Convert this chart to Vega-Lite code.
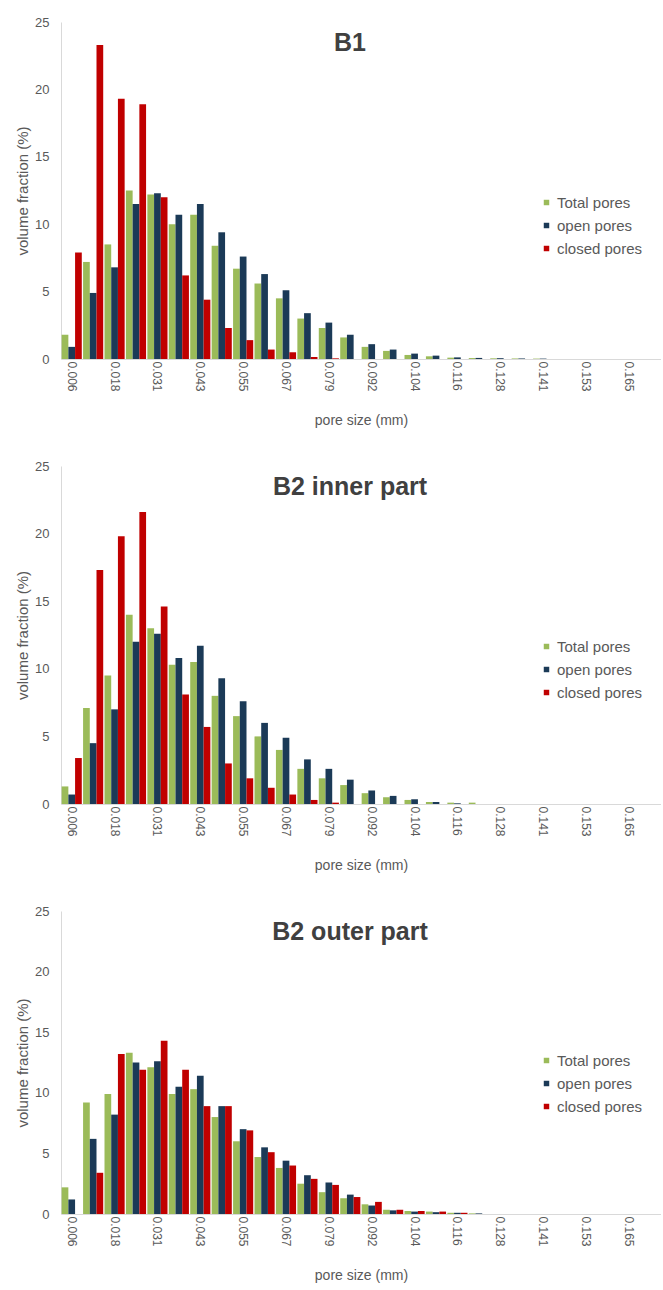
{
  "$schema": "https://vega.github.io/schema/vega-lite/v6.json",
  "padding": {"left": 15, "top": 16, "right": 0, "bottom": 5},
  "background": "white",
  "config": {
    "font": "Liberation Sans",
    "view": {"stroke": null},
    "axis": {
      "labelColor": "#595959",
      "titleColor": "#595959",
      "titleFontWeight": "normal",
      "domainColor": "#d9d9d9",
      "ticks": false,
      "grid": false
    },
    "axisY": {"labelFontSize": 13, "titleFontSize": 15, "labelPadding": 12, "titlePadding": 4},
    "axisX": {"labelFontSize": 12, "titleFontSize": 14, "titlePadding": 22},
    "legend": {
      "symbolType": "square",
      "symbolSize": 30,
      "symbolStrokeWidth": 0,
      "labelFontSize": 15,
      "labelColor": "#595959",
      "rowPadding": 7,
      "labelOffset": 3
    },
    "title": {"fontSize": 25, "fontWeight": "bold", "color": "#404040", "anchor": "middle", "dx": -11, "offset": -40}
  },
  "datasets": {
    "b1": [
      {"size": "0.006", "type": "Total pores", "v": 1.8}, {"size": "0.006", "type": "open pores", "v": 0.9}, {"size": "0.006", "type": "closed pores", "v": 7.9},
      {"size": "0.012", "type": "Total pores", "v": 7.2}, {"size": "0.012", "type": "open pores", "v": 4.9}, {"size": "0.012", "type": "closed pores", "v": 23.3},
      {"size": "0.018", "type": "Total pores", "v": 8.5}, {"size": "0.018", "type": "open pores", "v": 6.8}, {"size": "0.018", "type": "closed pores", "v": 19.3},
      {"size": "0.024", "type": "Total pores", "v": 12.5}, {"size": "0.024", "type": "open pores", "v": 11.5}, {"size": "0.024", "type": "closed pores", "v": 18.9},
      {"size": "0.031", "type": "Total pores", "v": 12.2}, {"size": "0.031", "type": "open pores", "v": 12.3}, {"size": "0.031", "type": "closed pores", "v": 12.0},
      {"size": "0.037", "type": "Total pores", "v": 10.0}, {"size": "0.037", "type": "open pores", "v": 10.7}, {"size": "0.037", "type": "closed pores", "v": 6.2},
      {"size": "0.043", "type": "Total pores", "v": 10.7}, {"size": "0.043", "type": "open pores", "v": 11.5}, {"size": "0.043", "type": "closed pores", "v": 4.4},
      {"size": "0.049", "type": "Total pores", "v": 8.4}, {"size": "0.049", "type": "open pores", "v": 9.4}, {"size": "0.049", "type": "closed pores", "v": 2.3},
      {"size": "0.055", "type": "Total pores", "v": 6.7}, {"size": "0.055", "type": "open pores", "v": 7.6}, {"size": "0.055", "type": "closed pores", "v": 1.4},
      {"size": "0.061", "type": "Total pores", "v": 5.6}, {"size": "0.061", "type": "open pores", "v": 6.3}, {"size": "0.061", "type": "closed pores", "v": 0.7},
      {"size": "0.067", "type": "Total pores", "v": 4.5}, {"size": "0.067", "type": "open pores", "v": 5.1}, {"size": "0.067", "type": "closed pores", "v": 0.5},
      {"size": "0.073", "type": "Total pores", "v": 3.0}, {"size": "0.073", "type": "open pores", "v": 3.4}, {"size": "0.073", "type": "closed pores", "v": 0.15},
      {"size": "0.079", "type": "Total pores", "v": 2.3}, {"size": "0.079", "type": "open pores", "v": 2.7}, {"size": "0.079", "type": "closed pores", "v": 0.05},
      {"size": "0.086", "type": "Total pores", "v": 1.6}, {"size": "0.086", "type": "open pores", "v": 1.8},
      {"size": "0.092", "type": "Total pores", "v": 0.9}, {"size": "0.092", "type": "open pores", "v": 1.1},
      {"size": "0.098", "type": "Total pores", "v": 0.6}, {"size": "0.098", "type": "open pores", "v": 0.7},
      {"size": "0.104", "type": "Total pores", "v": 0.3}, {"size": "0.104", "type": "open pores", "v": 0.4},
      {"size": "0.110", "type": "Total pores", "v": 0.2}, {"size": "0.110", "type": "open pores", "v": 0.25},
      {"size": "0.116", "type": "Total pores", "v": 0.1}, {"size": "0.116", "type": "open pores", "v": 0.12},
      {"size": "0.122", "type": "Total pores", "v": 0.07}, {"size": "0.122", "type": "open pores", "v": 0.08},
      {"size": "0.128", "type": "Total pores", "v": 0.05}, {"size": "0.128", "type": "open pores", "v": 0.06},
      {"size": "0.135", "type": "Total pores", "v": 0.04}, {"size": "0.135", "type": "open pores", "v": 0.04},
      {"size": "0.141", "type": "Total pores", "v": 0.03}, {"size": "0.141", "type": "open pores", "v": 0.03}
    ],
    "b2i": [
      {"size": "0.006", "type": "Total pores", "v": 1.3}, {"size": "0.006", "type": "open pores", "v": 0.7}, {"size": "0.006", "type": "closed pores", "v": 3.4},
      {"size": "0.012", "type": "Total pores", "v": 7.1}, {"size": "0.012", "type": "open pores", "v": 4.5}, {"size": "0.012", "type": "closed pores", "v": 17.3},
      {"size": "0.018", "type": "Total pores", "v": 9.5}, {"size": "0.018", "type": "open pores", "v": 7.0}, {"size": "0.018", "type": "closed pores", "v": 19.8},
      {"size": "0.024", "type": "Total pores", "v": 14.0}, {"size": "0.024", "type": "open pores", "v": 12.0}, {"size": "0.024", "type": "closed pores", "v": 21.6},
      {"size": "0.031", "type": "Total pores", "v": 13.0}, {"size": "0.031", "type": "open pores", "v": 12.6}, {"size": "0.031", "type": "closed pores", "v": 14.6},
      {"size": "0.037", "type": "Total pores", "v": 10.3}, {"size": "0.037", "type": "open pores", "v": 10.8}, {"size": "0.037", "type": "closed pores", "v": 8.1},
      {"size": "0.043", "type": "Total pores", "v": 10.5}, {"size": "0.043", "type": "open pores", "v": 11.7}, {"size": "0.043", "type": "closed pores", "v": 5.7},
      {"size": "0.049", "type": "Total pores", "v": 8.0}, {"size": "0.049", "type": "open pores", "v": 9.3}, {"size": "0.049", "type": "closed pores", "v": 3.0},
      {"size": "0.055", "type": "Total pores", "v": 6.5}, {"size": "0.055", "type": "open pores", "v": 7.6}, {"size": "0.055", "type": "closed pores", "v": 1.9},
      {"size": "0.061", "type": "Total pores", "v": 5.0}, {"size": "0.061", "type": "open pores", "v": 6.0}, {"size": "0.061", "type": "closed pores", "v": 1.2},
      {"size": "0.067", "type": "Total pores", "v": 4.0}, {"size": "0.067", "type": "open pores", "v": 4.9}, {"size": "0.067", "type": "closed pores", "v": 0.7},
      {"size": "0.073", "type": "Total pores", "v": 2.6}, {"size": "0.073", "type": "open pores", "v": 3.3}, {"size": "0.073", "type": "closed pores", "v": 0.3},
      {"size": "0.079", "type": "Total pores", "v": 1.9}, {"size": "0.079", "type": "open pores", "v": 2.6}, {"size": "0.079", "type": "closed pores", "v": 0.1},
      {"size": "0.086", "type": "Total pores", "v": 1.4}, {"size": "0.086", "type": "open pores", "v": 1.8},
      {"size": "0.092", "type": "Total pores", "v": 0.8}, {"size": "0.092", "type": "open pores", "v": 1.0},
      {"size": "0.098", "type": "Total pores", "v": 0.5}, {"size": "0.098", "type": "open pores", "v": 0.6},
      {"size": "0.104", "type": "Total pores", "v": 0.3}, {"size": "0.104", "type": "open pores", "v": 0.35},
      {"size": "0.110", "type": "Total pores", "v": 0.15}, {"size": "0.110", "type": "open pores", "v": 0.15},
      {"size": "0.116", "type": "Total pores", "v": 0.1}, {"size": "0.116", "type": "open pores", "v": 0.05},
      {"size": "0.122", "type": "Total pores", "v": 0.1}
    ],
    "b2o": [
      {"size": "0.006", "type": "Total pores", "v": 2.2}, {"size": "0.006", "type": "open pores", "v": 1.2},
      {"size": "0.012", "type": "Total pores", "v": 9.2}, {"size": "0.012", "type": "open pores", "v": 6.2}, {"size": "0.012", "type": "closed pores", "v": 3.4},
      {"size": "0.018", "type": "Total pores", "v": 9.9}, {"size": "0.018", "type": "open pores", "v": 8.2}, {"size": "0.018", "type": "closed pores", "v": 13.2},
      {"size": "0.024", "type": "Total pores", "v": 13.3}, {"size": "0.024", "type": "open pores", "v": 12.5}, {"size": "0.024", "type": "closed pores", "v": 11.9},
      {"size": "0.031", "type": "Total pores", "v": 12.1}, {"size": "0.031", "type": "open pores", "v": 12.6}, {"size": "0.031", "type": "closed pores", "v": 14.3},
      {"size": "0.037", "type": "Total pores", "v": 9.9}, {"size": "0.037", "type": "open pores", "v": 10.5}, {"size": "0.037", "type": "closed pores", "v": 11.9},
      {"size": "0.043", "type": "Total pores", "v": 10.3}, {"size": "0.043", "type": "open pores", "v": 11.4}, {"size": "0.043", "type": "closed pores", "v": 8.9},
      {"size": "0.049", "type": "Total pores", "v": 8.0}, {"size": "0.049", "type": "open pores", "v": 8.9}, {"size": "0.049", "type": "closed pores", "v": 8.9},
      {"size": "0.055", "type": "Total pores", "v": 6.0}, {"size": "0.055", "type": "open pores", "v": 7.0}, {"size": "0.055", "type": "closed pores", "v": 6.9},
      {"size": "0.061", "type": "Total pores", "v": 4.7}, {"size": "0.061", "type": "open pores", "v": 5.5}, {"size": "0.061", "type": "closed pores", "v": 5.1},
      {"size": "0.067", "type": "Total pores", "v": 3.8}, {"size": "0.067", "type": "open pores", "v": 4.4}, {"size": "0.067", "type": "closed pores", "v": 4.0},
      {"size": "0.073", "type": "Total pores", "v": 2.5}, {"size": "0.073", "type": "open pores", "v": 3.2}, {"size": "0.073", "type": "closed pores", "v": 2.9},
      {"size": "0.079", "type": "Total pores", "v": 1.8}, {"size": "0.079", "type": "open pores", "v": 2.6}, {"size": "0.079", "type": "closed pores", "v": 2.4},
      {"size": "0.086", "type": "Total pores", "v": 1.3}, {"size": "0.086", "type": "open pores", "v": 1.6}, {"size": "0.086", "type": "closed pores", "v": 1.4},
      {"size": "0.092", "type": "Total pores", "v": 0.8}, {"size": "0.092", "type": "open pores", "v": 0.7}, {"size": "0.092", "type": "closed pores", "v": 1.0},
      {"size": "0.098", "type": "Total pores", "v": 0.35}, {"size": "0.098", "type": "open pores", "v": 0.3}, {"size": "0.098", "type": "closed pores", "v": 0.35},
      {"size": "0.104", "type": "Total pores", "v": 0.25}, {"size": "0.104", "type": "open pores", "v": 0.2}, {"size": "0.104", "type": "closed pores", "v": 0.25},
      {"size": "0.110", "type": "Total pores", "v": 0.2}, {"size": "0.110", "type": "open pores", "v": 0.15}, {"size": "0.110", "type": "closed pores", "v": 0.2},
      {"size": "0.116", "type": "Total pores", "v": 0.1}, {"size": "0.116", "type": "open pores", "v": 0.1}, {"size": "0.116", "type": "closed pores", "v": 0.1},
      {"size": "0.122", "type": "Total pores", "v": 0.05}, {"size": "0.122", "type": "open pores", "v": 0.05}
    ]
  },
  "spacing": 107,
  "bounds": "flush",
  "resolve": {"legend": {"color": "independent"}},
  "vconcat": [
    {
      "data": {"name": "b1"},
      "width": 600,
      "height": 337,
      "title": {"text": "B1"},
      "mark": {"type": "bar"},
      "encoding": {
        "x": {"field": "size", "type": "nominal", "sort": null,
          "scale": {"domain": ["0.006","0.012","0.018","0.024","0.031","0.037","0.043","0.049","0.055","0.061","0.067","0.073","0.079","0.086","0.092","0.098","0.104","0.110","0.116","0.122","0.128","0.135","0.141","0.147","0.153","0.159","0.165","0.171"], "paddingInner": 0.06, "paddingOuter": 0.03},
          "axis": {"values": ["0.006","0.018","0.031","0.043","0.055","0.067","0.079","0.092","0.104","0.116","0.128","0.141","0.153","0.165"], "labelAngle": 90, "title": "pore size (mm)"}},
        "xOffset": {"field": "type", "type": "nominal", "scale": {"domain": ["Total pores","open pores","closed pores"]}},
        "y": {"field": "v", "type": "quantitative", "scale": {"domain": [0, 25]},
          "axis": {"values": [0,5,10,15,20,25], "title": "volume fraction (%)"}},
        "color": {"field": "type", "type": "nominal",
          "scale": {"domain": ["Total pores","open pores","closed pores"], "range": ["#9bbb59","#1b3a57","#c00000"]},
          "legend": {"orient": "none", "legendX": 478, "legendY": 173, "title": null}}
      }
    },
    {
      "data": {"name": "b2i"},
      "width": 600,
      "height": 338,
      "title": {"text": "B2 inner part"},
      "mark": {"type": "bar"},
      "encoding": {
        "x": {"field": "size", "type": "nominal", "sort": null,
          "scale": {"domain": ["0.006","0.012","0.018","0.024","0.031","0.037","0.043","0.049","0.055","0.061","0.067","0.073","0.079","0.086","0.092","0.098","0.104","0.110","0.116","0.122","0.128","0.135","0.141","0.147","0.153","0.159","0.165","0.171"], "paddingInner": 0.06, "paddingOuter": 0.03},
          "axis": {"values": ["0.006","0.018","0.031","0.043","0.055","0.067","0.079","0.092","0.104","0.116","0.128","0.141","0.153","0.165"], "labelAngle": 90, "title": "pore size (mm)"}},
        "xOffset": {"field": "type", "type": "nominal", "scale": {"domain": ["Total pores","open pores","closed pores"]}},
        "y": {"field": "v", "type": "quantitative", "scale": {"domain": [0, 25]},
          "axis": {"values": [0,5,10,15,20,25], "title": "volume fraction (%)"}},
        "color": {"field": "type", "type": "nominal",
          "scale": {"domain": ["Total pores","open pores","closed pores"], "range": ["#9bbb59","#1b3a57","#c00000"]},
          "legend": {"orient": "none", "legendX": 478, "legendY": 173, "title": null}}
      }
    },
    {
      "data": {"name": "b2o"},
      "width": 600,
      "height": 303,
      "title": {"text": "B2 outer part"},
      "mark": {"type": "bar"},
      "encoding": {
        "x": {"field": "size", "type": "nominal", "sort": null,
          "scale": {"domain": ["0.006","0.012","0.018","0.024","0.031","0.037","0.043","0.049","0.055","0.061","0.067","0.073","0.079","0.086","0.092","0.098","0.104","0.110","0.116","0.122","0.128","0.135","0.141","0.147","0.153","0.159","0.165","0.171"], "paddingInner": 0.06, "paddingOuter": 0.03},
          "axis": {"values": ["0.006","0.018","0.031","0.043","0.055","0.067","0.079","0.092","0.104","0.116","0.128","0.141","0.153","0.165"], "labelAngle": 90, "title": "pore size (mm)"}},
        "xOffset": {"field": "type", "type": "nominal", "scale": {"domain": ["Total pores","open pores","closed pores"]}},
        "y": {"field": "v", "type": "quantitative", "scale": {"domain": [0, 25]},
          "axis": {"values": [0,5,10,15,20,25], "title": "volume fraction (%)"}},
        "color": {"field": "type", "type": "nominal",
          "scale": {"domain": ["Total pores","open pores","closed pores"], "range": ["#9bbb59","#1b3a57","#c00000"]},
          "legend": {"orient": "none", "legendX": 478, "legendY": 142, "title": null}}
      }
    }
  ]
}
